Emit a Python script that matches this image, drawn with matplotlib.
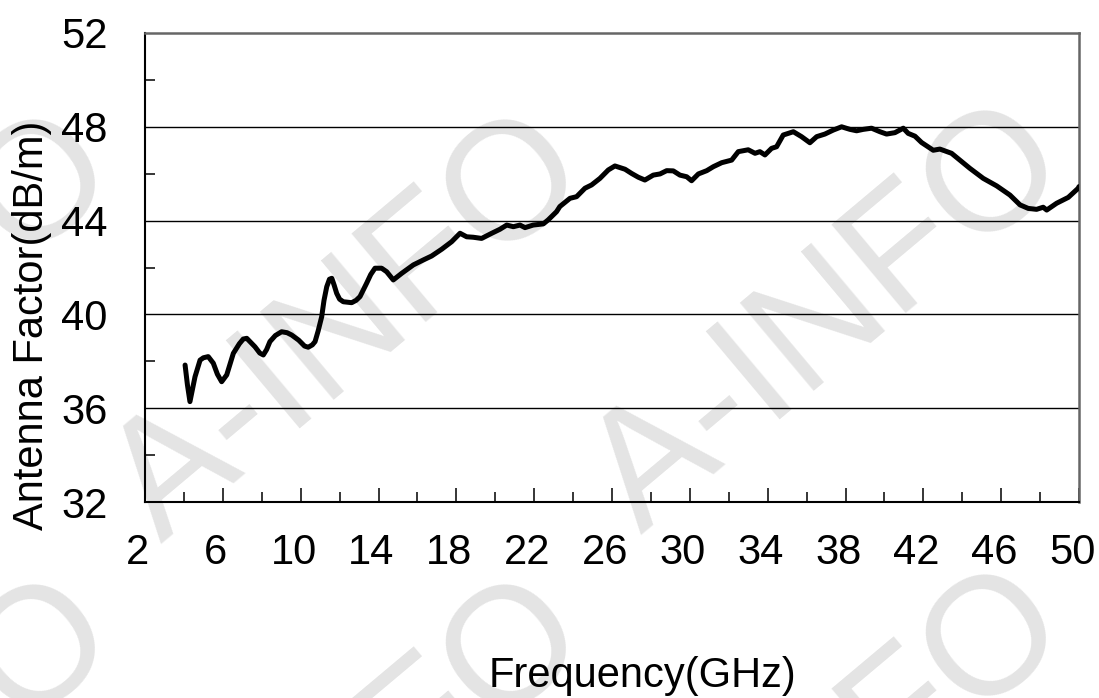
import matplotlib; matplotlib.use("Agg")
import matplotlib.pyplot as plt
import matplotlib.transforms as mtransforms
from matplotlib.ticker import MultipleLocator

# antenna factor curve
freq_ghz=[4.06,4.18,4.31,4.57,4.83,5.00,5.25,5.51,5.72,5.94,6.20,6.54,6.85,7.05,7.23,7.65,7.90,8.08,8.25,8.42,8.70,9.02,
          9.30,9.54,9.90,10.20,10.39,10.60,10.74,10.90,11.08,11.20,11.34,11.48,11.60,11.72,11.85,12.00,12.19,12.62,12.85,
          13.05,13.39,13.60,13.82,14.16,14.42,14.76,15.19,15.79,16.30,16.73,17.25,17.76,18.19,18.53,18.87,
          19.30,19.82,20.24,20.59,20.93,21.27,21.53,21.95,22.47,22.72,23.15,23.32,23.84,24.18,24.61,24.95,25.38,25.81,
          26.15,26.67,27.01,27.35,27.69,28.12,28.47,28.81,29.15,29.49,29.84,30.09,30.44,30.87,31.21,31.64,32.15,32.49,
          33.00,33.35,33.60,33.86,34.20,34.46,34.80,35.32,35.74,36.17,36.52,36.94,37.37,37.80,38.23,38.57,38.91,39.34,
          39.77,40.11,40.54,40.97,41.22,41.57,41.91,42.51,42.85,43.45,43.88,44.39,45.08,45.77,46.45,46.97,47.39,47.82,
          48.16,48.34,48.85,49.45,49.96,50.00]
af_dbm=[37.84,37.00,36.28,37.34,38.05,38.15,38.20,37.92,37.45,37.13,37.42,38.34,38.75,38.95,38.98,38.62,38.35,38.27,38.50,38.84,39.10,39.26,
        39.22,39.12,38.90,38.65,38.60,38.70,38.84,39.30,39.90,40.60,41.18,41.50,41.54,41.25,40.90,40.65,40.54,40.50,40.60,
        40.76,41.33,41.70,41.97,41.97,41.82,41.47,41.75,42.11,42.32,42.49,42.78,43.10,43.46,43.31,43.29,
        43.24,43.46,43.63,43.81,43.74,43.81,43.70,43.81,43.86,44.03,44.38,44.60,44.95,45.02,45.38,45.52,45.80,46.16,
        46.33,46.19,46.01,45.85,45.73,45.94,45.99,46.13,46.12,45.94,45.87,45.70,45.99,46.13,46.30,46.47,46.58,46.94,
        47.02,46.87,46.94,46.80,47.08,47.15,47.65,47.79,47.58,47.32,47.58,47.69,47.86,48.00,47.89,47.83,47.89,47.94,
        47.79,47.69,47.75,47.94,47.72,47.60,47.33,47.00,47.05,46.87,46.58,46.23,45.80,45.48,45.09,44.67,44.52,44.48,
        44.57,44.45,44.74,44.99,45.38,45.45]
x_ticks=[2,6,10,14,18,22,26,30,34,38,42,46,50]
y_ticks=[32,36,40,44,48,52]
grid_y=[36,40,44,48]
wm_text="A-INFO"
wm_pos=[(0.318,0.527),(0.755,0.54),(0.318,-0.139),(0.755,-0.125),(-0.11,0.527),(-0.11,-0.139)]

plt.rcParams["font.family"]=["Liberation Sans","DejaVu Sans"]
fig=plt.figure(figsize=(10.99,6.98),dpi=100)
ax=fig.add_axes([145/1099,1-502/698,934/1099,469/698])
for g in grid_y: ax.axhline(g,color="black",lw=1.0,zorder=1)
ax.plot(freq_ghz,af_dbm,color="black",lw=3.6,solid_joinstyle="round",solid_capstyle="round",zorder=3)
ax.set_xlim(2,50); ax.set_ylim(32,52)
ax.set_xticks(x_ticks); ax.set_yticks(y_ticks)
ax.xaxis.set_minor_locator(MultipleLocator(2)); ax.yaxis.set_minor_locator(MultipleLocator(2))
ax.tick_params(axis="both",which="both",direction="in",color="black",width=1.1,labelsize=30)
ax.tick_params(axis="x",which="major",length=10,pad=22)
ax.tick_params(axis="x",which="minor",length=7)
ax.tick_params(axis="y",which="major",length=0,pad=27)
ax.tick_params(axis="y",which="minor",length=7.5)
# x labels sit a little left of their ticks in the reference
shift=mtransforms.ScaledTranslation(-7/100,0,fig.dpi_scale_trans)
for lab in ax.get_xticklabels(): lab.set_transform(lab.get_transform()+shift)
for s in ("left","bottom"): ax.spines[s].set_linewidth(1.5); ax.spines[s].set_color("black")
for s in ("top","right"): ax.spines[s].set_linewidth(1.8); ax.spines[s].set_color("#666666")
ax.set_xlabel("Frequency(GHz)",fontsize=30); ax.xaxis.set_label_coords(0.533,-0.328)
ax.set_ylabel("Antenna Factor(dB/m)",fontsize=30); ax.yaxis.set_label_coords(-0.10,0.377)
# faint watermark
for (wx,wy) in wm_pos:
    fig.text(wx,wy,wm_text,fontsize=120,color="black",alpha=0.11,rotation=40,ha="center",va="center",
             rotation_mode="anchor",zorder=10)
fig.savefig("out.png",dpi=100)
